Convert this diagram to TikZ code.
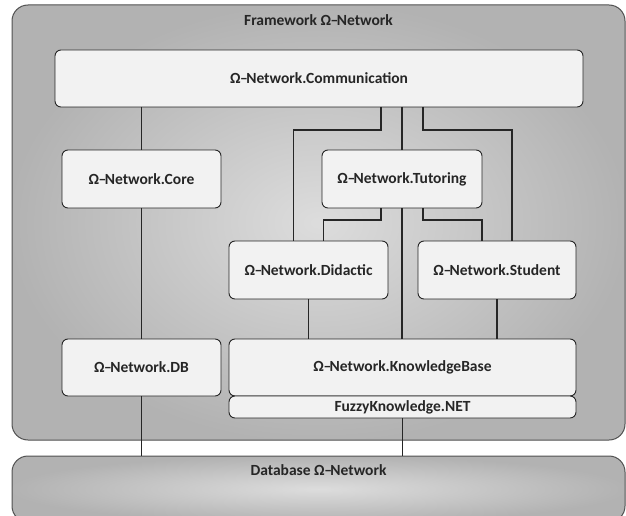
\documentclass[tikz,border=0pt]{standalone}
\usepackage{fontspec}
\setmainfont{Carlito}
\usetikzlibrary{calc}
\newcommand{\omn}{Ω\kern-0.5pt–\kern-1.5pt Network}
\definecolor{boxfill}{HTML}{F2F2F2}
\definecolor{edge}{HTML}{262626}
\tikzset{
  every node/.style={font=\fontsize{15.5}{18}\selectfont\bfseries, text=black!85},
  box/.style={draw=edge, line width=0.9pt, fill=boxfill, rounded corners=6pt,
    inner sep=0pt, outer sep=0pt},
  frame/.style={draw=edge!80, line width=1pt, rounded corners=16pt,
    inner sep=0pt, outer sep=0pt, inner color=gray!27, outer color=gray!60},
  conn/.style={draw=edge, line width=1.4pt},
}
\begin{document}
\begin{tikzpicture}[x=1pt,y=-1pt]
\useasboundingbox (0,0) rectangle (626,516);
\clip (0,0) rectangle (626,516);
% frames
\node[frame, minimum width=613, minimum height=435,
  label={[anchor=center,yshift=-15pt]north:Framework \omn}] (fw) at (318.5,222.5) {};
\node[frame, minimum width=613, minimum height=66,
  label={[anchor=center,yshift=-14pt]north:Database \omn}] (dbase) at (318.5,489) {};
% boxes
\node[box, minimum width=528, minimum height=57] (comm) at (319,78.5) {\omn.Communication};
\node[box, minimum width=159, minimum height=58] (core) at (141.5,179) {\omn.Core};
\node[box, minimum width=160, minimum height=58] (tut) at (402,179) {\omn.Tutoring};
\node[box, minimum width=159, minimum height=58] (did) at (308.5,270) {\omn.Didactic};
\node[box, minimum width=158, minimum height=58] (stu) at (497,270) {\omn.Student};
\node[box, minimum width=159, minimum height=57] (db) at (141.5,367.5) {\omn.DB};
\node[box, minimum width=347, minimum height=57] (kb) at (402.5,367.5) {\omn.KnowledgeBase};
\node[box, minimum width=347, minimum height=22] (fuzzy) at (402.5,407) {FuzzyKnowledge.NET};
% connectors
\draw[conn] (comm.south -| core.north) -- (core.north);
\draw[conn] (core.south) -- (db.north);
\draw[conn] (db.south) -- (db.south |- dbase.north);
\draw[conn] (comm.south -| tut.north) -- (tut.north);
\draw[conn] (tut.south) -- (tut.south |- kb.north);
\draw[conn] ($(comm.south -| tut.north)+(-21,0)$) -- ++(0,23) -| ($(did.north)+(-15,0)$);
\draw[conn] ($(comm.south -| tut.north)+(21,0)$) -- ++(0,23) -| ($(stu.north)+(15,0)$);
\draw[conn] ($(tut.south)+(-21,0)$) -- ++(0,12) -| ($(did.north)+(15,0)$);
\draw[conn] ($(tut.south)+(21,0)$) -- ++(0,12) -| ($(stu.north)+(-15,0)$);
\draw[conn] (did.south) -- (did.south |- kb.north);
\draw[conn] (stu.south) -- (stu.south |- kb.north);
\draw[conn] (fuzzy.south) -- (fuzzy.south |- dbase.north);
\end{tikzpicture}
\end{document}
